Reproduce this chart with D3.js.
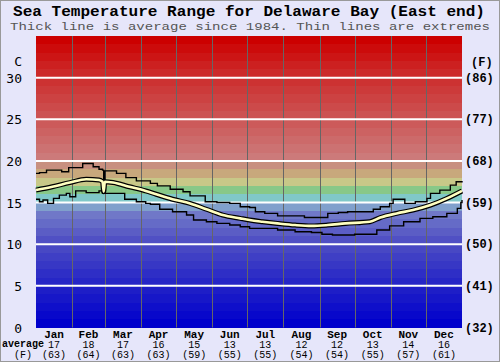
<!DOCTYPE html>
<html>
<head>
<meta charset="utf-8">
<script src="https://cdn.jsdelivr.net/npm/d3@7"></script>
<style>
  body { margin: 0; background: #e6e6fa; }
  svg { display: block; }
</style>
</head>
<body>
<svg></svg>
<script>
// chart data
var months = ["Jan","Feb","Mar","Apr","May","Jun","Jul","Aug","Sep","Oct","Nov","Dec"];
var monthStart = [0,31,59,90,120,151,181,212,243,273,304,334,365];
var avgC = ["17","18","17","16","15","13","13","12","12","13","14","16"];
var avgF = ["(63)","(64)","(63)","(63)","(59)","(55)","(55)","(54)","(54)","(55)","(57)","(61)"];
var cTicks = [0,5,10,15,20,25,30];
var fTicks = ["(32)","(41)","(50)","(59)","(68)","(77)","(86)"];

// [day of year, deg C]
var maxTemp = [[0,18.5],[3,18.6],[9,18.9],[19,18.9],[22,18.7],[28,19.2],[38,19.2],[40,19.7],[45,19.7],
  [49,19.3],[54,19.0],[57,18.9],[58,16.1],[59,18.8],[66,18.8],[69,18.5],[75,18.5],[77,18.0],[83,18.0],
  [86,17.6],[94,17.6],[98,17.3],[104,17.0],[115,16.6],[126,16.3],[132,15.8],[145,15.1],[155,15.0],
  [166,14.9],[175,14.5],[183,14.4],[188,13.9],[196,13.7],[207,13.4],[230,13.2],[245,13.2],[250,13.7],
  [259,13.8],[267,13.9],[289,14.2],[295,14.5],[303,14.9],[306,15.4],[315,15.4],[316,14.9],[325,15.1],
  [335,15.5],[338,16.1],[346,16.5],[355,17.1],[360,17.5],[365,17.6]];

var avgTemp = [[0,16.5],[14,16.9],[29,17.4],[43,17.8],[54,17.7],[57,17.5],[58,16.3],[59,17.5],[66,17.4],
  [80,16.9],[94,16.4],[103,16.0],[117,15.4],[132,14.9],[146,14.2],[160,13.5],[175,13.1],[183,12.9],
  [194,12.7],[207,12.5],[222,12.3],[236,12.2],[250,12.3],[265,12.5],[286,12.7],[295,13.2],[309,13.7],
  [323,14.1],[338,14.7],[352,15.5],[365,16.4]];

var minTemp = [[0,15.4],[3,15.1],[6,15.3],[10,14.9],[15,15.5],[20,15.9],[26,16.1],[29,15.7],[34,16.4],
  [43,16.2],[51,16.2],[54,16.4],[57,16.1],[75,16.1],[76,15.4],[86,15.1],[94,14.9],[98,14.8],[106,14.2],
  [117,13.9],[129,13.5],[135,12.9],[146,12.7],[155,12.5],[166,12.3],[175,12.1],[183,11.9],[207,11.7],
  [222,11.5],[236,11.4],[245,11.2],[254,11.1],[273,11.2],[292,11.7],[303,12.2],[315,12.7],[329,13.1],
  [340,13.3],[352,13.7],[361,14.3],[364,15.0],[365,15.3]];

// colour ramp for the 1 degree background bands
var bandStops = [0,5,10,13,14,15,16,17,18,19,20,25,30,34];
var bandColors = ["#0000cc","#2626c6","#5050c4","#7078c8","#80a0cc","#80c8c8","#88c888","#c8c888",
  "#c8a87c","#c89080","#cc7a7a","#cc5252","#cc2a2a","#cc0000"];

var width = 500, height = 362;
var svg = d3.select("svg").attr("width", width).attr("height", height);

var x = d3.scaleLinear().domain([0, 365]).range([36, 462]);
var y = d3.scaleLinear().domain([0, 35]).range([327.5, 36]);
var bandColor = d3.scaleLinear().domain(bandStops).range(bandColors).interpolate(d3.interpolateRgb);

svg.append("rect").attr("x", 0.5).attr("y", 0.5).attr("width", width - 1).attr("height", height - 1)
  .attr("fill", "#e6e6fa").attr("stroke", "#999");

// bands
svg.append("g").selectAll("rect")
  .data(d3.range(0, 35))
  .enter().append("rect")
  .attr("x", x(0)).attr("width", x(365) - x(0))
  .attr("y", function(d) { return y(d + 1); })
  .attr("height", function(d) { return y(d) - y(d + 1); })
  .attr("fill", function(d) { return bandColor(d); })
  .attr("shape-rendering", "crispEdges");

// month lines
svg.append("g").selectAll("line")
  .data(monthStart.slice(1, 12))
  .enter().append("line")
  .attr("x1", function(d) { return Math.round(x(d)) + 0.5; })
  .attr("x2", function(d) { return Math.round(x(d)) + 0.5; })
  .attr("y1", y(35)).attr("y2", y(0))
  .attr("stroke", "#666").attr("stroke-width", 1);

// white degree lines
svg.append("g").selectAll("line")
  .data(cTicks.slice(1))
  .enter().append("line")
  .attr("x1", x(0)).attr("x2", x(365))
  .attr("y1", function(d) { return y(d); }).attr("y2", function(d) { return y(d); })
  .attr("stroke", "#ffffff").attr("stroke-width", 2);

var stepLine = d3.line()
  .x(function(d) { return x(d[0]); })
  .y(function(d) { return y(d[1]); })
  .curve(d3.curveStepAfter);

var avgLine = d3.line()
  .x(function(d) { return x(d[0]); })
  .y(function(d) { return y(d[1]); })
  .curve(d3.curveMonotoneX);

[maxTemp, minTemp].forEach(function(s) {
  svg.append("path").datum(s).attr("d", stepLine)
    .attr("fill", "none").attr("stroke", "#000").attr("stroke-width", 1.4);
});

svg.append("path").datum(avgTemp).attr("d", avgLine)
  .attr("fill", "none").attr("stroke", "#000").attr("stroke-width", 5);
svg.append("path").datum(avgTemp).attr("d", avgLine)
  .attr("fill", "none").attr("stroke", "#ffffc0").attr("stroke-width", 2.6);

// titles
svg.append("text").attr("x", 13).attr("y", 15.5)
  .attr("textLength", 472).attr("lengthAdjust", "spacingAndGlyphs")
  .style("font", "bold 14px 'Liberation Mono', monospace").attr("fill", "#000")
  .text("Sea Temperature Range for Delaware Bay (East end)");
svg.append("text").attr("x", 10).attr("y", 29.5)
  .attr("textLength", 480).attr("lengthAdjust", "spacingAndGlyphs")
  .style("font", "11px 'Liberation Mono', monospace").attr("fill", "#555")
  .text("Thick line is average since 1984. Thin lines are extremes");

// left axis (C)
var left = svg.append("g").style("font", "13px 'DejaVu Sans Mono', monospace").attr("fill", "#000");
left.selectAll("text.c").data(cTicks).enter().append("text")
  .attr("x", 22).attr("y", function(d) { return y(d) + 5; })
  .attr("text-anchor", "end").text(function(d) { return d; });
left.append("text").attr("x", 22).attr("y", 66).attr("text-anchor", "end").text("C");

// right axis (F)
var right = svg.append("g").style("font", "bold 12px 'Liberation Mono', monospace").attr("fill", "#000");
right.selectAll("text.f").data(fTicks).enter().append("text")
  .attr("x", 465).attr("y", function(d, i) { return y(cTicks[i]) + 4; })
  .text(function(d) { return d; });
right.append("text").attr("x", 471).attr("y", 66).text("(F)");

// month labels + averages
var mid = function(i) { return x((monthStart[i] + monthStart[i + 1]) / 2); };
var bottom = svg.append("g").attr("fill", "#000").attr("text-anchor", "middle");
bottom.selectAll("text.m").data(months).enter().append("text")
  .attr("x", function(d, i) { return mid(i); }).attr("y", 338)
  .style("font", "bold 11px 'Liberation Mono', monospace").text(function(d) { return d; });
bottom.selectAll("text.a").data(avgC).enter().append("text")
  .attr("x", function(d, i) { return mid(i); }).attr("y", 348)
  .style("font", "10px 'Liberation Mono', monospace").text(function(d) { return d; });
bottom.selectAll("text.af").data(avgF).enter().append("text")
  .attr("x", function(d, i) { return mid(i); }).attr("y", 358)
  .style("font", "10px 'Liberation Mono', monospace").text(function(d) { return d; });
bottom.append("text").attr("x", 23).attr("y", 347)
  .style("font", "bold 10px 'Liberation Mono', monospace").text("average");
bottom.append("text").attr("x", 23).attr("y", 358)
  .style("font", "10px 'Liberation Mono', monospace").text("(F)");
</script>
</body>
</html>
